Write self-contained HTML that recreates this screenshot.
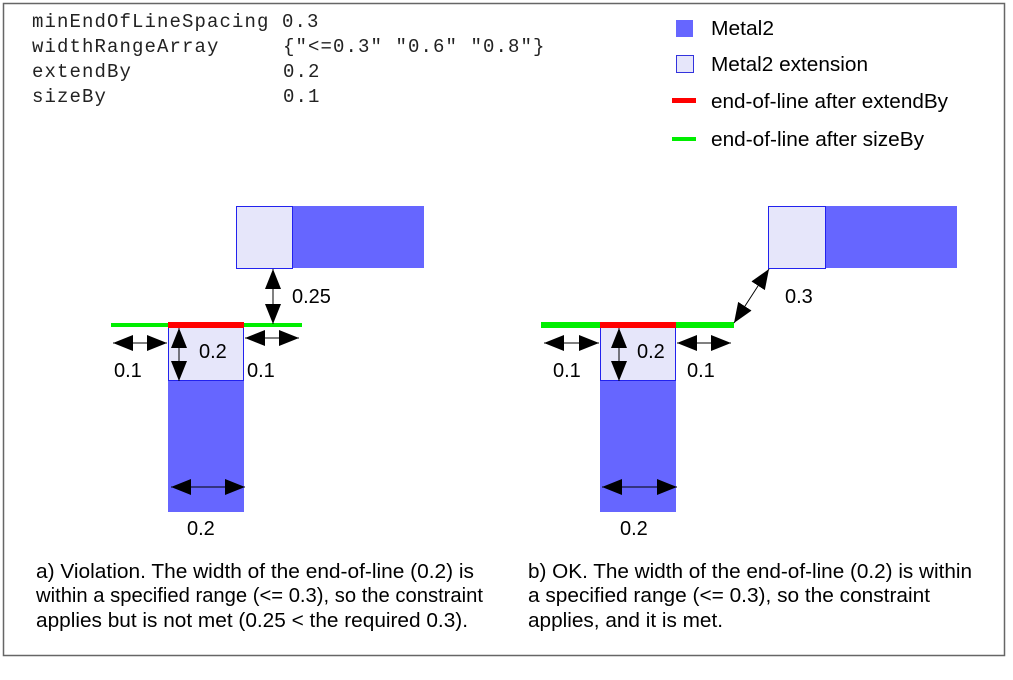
<!DOCTYPE html>
<html><head><meta charset="utf-8"><style>
html,body{margin:0;padding:0;background:#fff;}
svg{display:block;}
.m{font-family:"Liberation Mono",monospace;font-size:19px;fill:#222;letter-spacing:1.1px;}
.s{font-family:"Liberation Sans",sans-serif;font-size:20px;fill:#000;}
.t{font-family:"Liberation Sans",sans-serif;font-size:20px;fill:#000;}
</style></head><body>
<svg width="1013" height="680" viewBox="0 0 1013 680" xmlns="http://www.w3.org/2000/svg">
<defs>
<marker id="a" markerUnits="userSpaceOnUse" markerWidth="22" markerHeight="18" refX="20" refY="8" orient="auto-start-reverse">
<path d="M0,0 L20,8 L0,16 z" fill="#000"/>
</marker>
</defs>
<rect x="3.5" y="3.5" width="1001" height="652" fill="#fff" stroke="#666" stroke-width="1.5"/>
<text class="m" x="32" y="27">minEndOfLineSpacing 0.3</text>
<text class="m" x="32" y="52">widthRangeArray</text><text class="m" x="283" y="52">{"&lt;=0.3" "0.6" "0.8"}</text>
<text class="m" x="32" y="77">extendBy</text><text class="m" x="283" y="77">0.2</text>
<text class="m" x="32" y="102">sizeBy</text><text class="m" x="283" y="102">0.1</text>

<rect x="676" y="20" width="17" height="17" fill="#6666ff"/>
<text class="s" x="711" y="35" textLength="63" lengthAdjust="spacingAndGlyphs">Metal2</text>
<rect x="676.5" y="55.5" width="17" height="17" fill="#e6e6fa" stroke="#3333dd"/>
<text class="s" x="711" y="71" textLength="157" lengthAdjust="spacingAndGlyphs">Metal2 extension</text>
<rect x="672" y="98" width="24" height="5" fill="#ff0000"/>
<text class="s" x="711" y="108" textLength="237" lengthAdjust="spacingAndGlyphs">end-of-line after extendBy</text>
<rect x="672" y="137" width="24" height="4" fill="#00ee00"/>
<text class="s" x="711" y="146" textLength="213" lengthAdjust="spacingAndGlyphs">end-of-line after sizeBy</text>

<!-- Left diagram -->
<rect x="292" y="206" width="132" height="62" fill="#6666ff"/>
<rect x="236.5" y="206.5" width="56" height="62" fill="#e6e6fa" stroke="#2222ee"/>
<rect x="168" y="380" width="76" height="132" fill="#6666ff"/>
<rect x="168.5" y="325.5" width="75" height="55" fill="#e6e6fa" stroke="#2222ee"/>
<rect x="111" y="323" width="58" height="4" fill="#00ee00"/>
<rect x="243" y="323" width="59" height="4" fill="#00ee00"/>
<rect x="168" y="322" width="76" height="6" fill="#ff0000"/>
<line x1="273" y1="269" x2="273" y2="324" stroke="#000" marker-start="url(#a)" marker-end="url(#a)"/>
<line x1="113" y1="343" x2="167" y2="343" stroke="#000" marker-start="url(#a)" marker-end="url(#a)"/>
<line x1="245" y1="338" x2="299" y2="338" stroke="#000" marker-start="url(#a)" marker-end="url(#a)"/>
<line x1="179" y1="328" x2="179" y2="381" stroke="#000" marker-start="url(#a)" marker-end="url(#a)"/>
<line x1="171" y1="487" x2="245" y2="487" stroke="#000" marker-start="url(#a)" marker-end="url(#a)"/>
<text class="s" x="292" y="303">0.25</text>
<text class="s" x="199" y="358">0.2</text>
<text class="s" x="114" y="377">0.1</text>
<text class="s" x="247" y="377">0.1</text>
<text class="s" x="187" y="535">0.2</text>

<!-- Right diagram -->
<rect x="825" y="206" width="132" height="62" fill="#6666ff"/>
<rect x="768.5" y="206.5" width="57" height="62" fill="#e6e6fa" stroke="#2222ee"/>
<rect x="600" y="380" width="76" height="132" fill="#6666ff"/>
<rect x="600.5" y="325.5" width="75" height="55" fill="#e6e6fa" stroke="#2222ee"/>
<rect x="541" y="322" width="60" height="6" fill="#00ee00"/>
<rect x="675" y="322" width="59" height="6" fill="#00ee00"/>
<rect x="600" y="322" width="76" height="6" fill="#ff0000"/>
<line x1="734" y1="323" x2="769" y2="269" stroke="#000" marker-start="url(#a)" marker-end="url(#a)"/>
<line x1="544" y1="343" x2="599" y2="343" stroke="#000" marker-start="url(#a)" marker-end="url(#a)"/>
<line x1="677" y1="343" x2="731" y2="343" stroke="#000" marker-start="url(#a)" marker-end="url(#a)"/>
<line x1="619" y1="328" x2="619" y2="381" stroke="#000" marker-start="url(#a)" marker-end="url(#a)"/>
<line x1="602" y1="487" x2="677" y2="487" stroke="#000" marker-start="url(#a)" marker-end="url(#a)"/>
<text class="s" x="785" y="303">0.3</text>
<text class="s" x="637" y="358">0.2</text>
<text class="s" x="553" y="377">0.1</text>
<text class="s" x="687" y="377">0.1</text>
<text class="s" x="620" y="535">0.2</text>

<text class="t" x="36" y="578" textLength="438" lengthAdjust="spacingAndGlyphs">a) Violation. The width of the end-of-line (0.2) is</text>
<text class="t" x="36" y="602" textLength="447" lengthAdjust="spacingAndGlyphs">within a specified range (&lt;= 0.3), so the constraint</text>
<text class="t" x="36" y="627" textLength="432" lengthAdjust="spacingAndGlyphs">applies but is not met (0.25 &lt; the required 0.3).</text>
<text class="t" x="528" y="578" textLength="444" lengthAdjust="spacingAndGlyphs">b) OK. The width of the end-of-line (0.2) is within</text>
<text class="t" x="528" y="602" textLength="402" lengthAdjust="spacingAndGlyphs">a specified range (&lt;= 0.3), so the constraint</text>
<text class="t" x="528" y="627" textLength="195" lengthAdjust="spacingAndGlyphs">applies, and it is met.</text>
</svg>
</body></html>
